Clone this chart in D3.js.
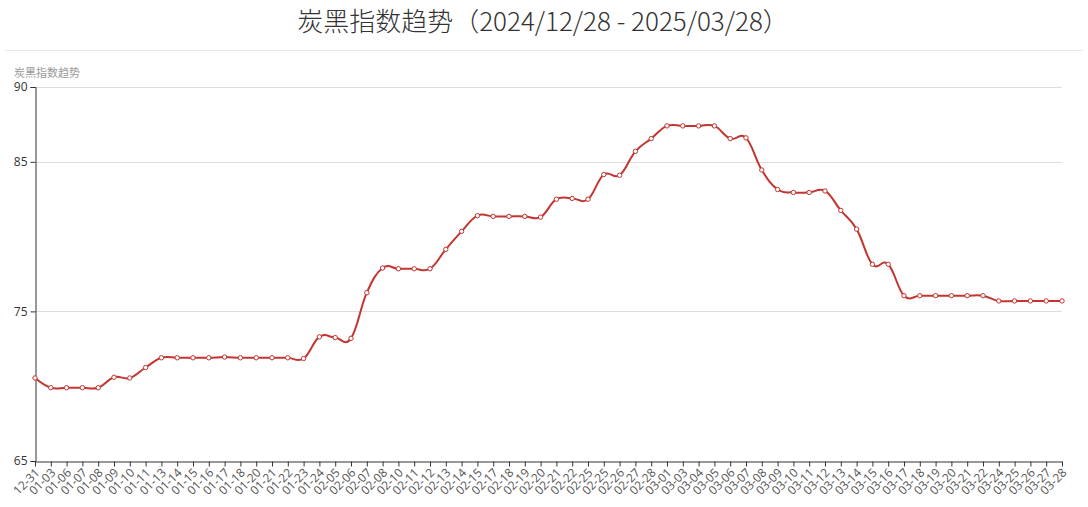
<!DOCTYPE html>
<html>
<head>
<meta charset="utf-8">
<script src="https://cdn.jsdelivr.net/npm/d3@7"></script>
<style>
  html, body { margin: 0; padding: 0; background: #fff; }
  svg { display: block; }
</style>
</head>
<body>
<svg id="chart" width="1088" height="507"></svg>
<script>
const titleText = "炭黑指数趋势（2024/12/28 - 2025/03/28）";
const yAxisName = "炭黑指数趋势";
const categories = ["12-31","01-03","01-06","01-07","01-08","01-09","01-10","01-11","01-13","01-14","01-15","01-16","01-17","01-18","01-20","01-21","01-22","01-23","01-24","02-05","02-06","02-07","02-08","02-10","02-11","02-12","02-13","02-14","02-15","02-17","02-18","02-19","02-20","02-21","02-22","02-25","02-25","02-26","02-27","02-28","03-01","03-03","03-04","03-05","03-06","03-07","03-08","03-09","03-10","03-11","03-12","03-13","03-14","03-15","03-16","03-17","03-18","03-19","03-20","03-21","03-22","03-24","03-25","03-26","03-27","03-28"];
const values = [70.55,69.9,69.9,69.9,69.9,70.6,70.55,71.25,71.9,71.9,71.9,71.9,71.95,71.9,71.9,71.9,71.9,71.85,73.3,73.25,73.2,76.25,77.9,77.85,77.85,77.85,79.15,80.35,81.4,81.35,81.35,81.35,81.3,82.5,82.55,82.5,84.15,84.1,85.7,86.55,87.4,87.4,87.4,87.4,86.55,86.6,84.45,83.15,82.95,82.95,83.05,81.75,80.5,78.15,78.15,76.05,76.05,76.05,76.05,76.05,76.05,75.7,75.7,75.7,75.7,75.7];
const yTicks = [65, 75, 85, 90];
const yDomain = [65, 90];

(function () {
const svg = d3.select("#chart");
const mLeft = 35, mRight = 1062, mTop = 87, mBottom = 461;

const x = d3.scaleLinear().domain([0, categories.length - 1]).range([mLeft, mRight]);
const y = d3.scaleLinear().domain(yDomain).range([mBottom, mTop]);

// title
svg.append("text")
  .attr("x", 543).attr("y", 31)
  .attr("text-anchor", "middle")
  .attr("font-family", "'Noto Sans CJK SC', 'Noto Sans', sans-serif")
  .attr("font-size", 26)
  .attr("font-weight", 300)
  .attr("fill", "#333")
  .text(titleText);

// separator line
svg.append("line")
  .attr("x1", 5).attr("x2", 1083).attr("y1", 50.5).attr("y2", 50.5)
  .attr("stroke", "#e6e6e6").attr("stroke-width", 1);

// y axis name
svg.append("text")
  .attr("x", 14).attr("y", 77)
  .attr("font-family", "'Noto Sans CJK SC', sans-serif")
  .attr("font-size", 11)
  .attr("fill", "#999")
  .text(yAxisName);

// grid lines
svg.append("g").selectAll("line")
  .data(yTicks.filter(d => d !== yDomain[0]))
  .join("line")
  .attr("x1", mLeft).attr("x2", mRight)
  .attr("y1", d => Math.round(y(d)) + 0.5).attr("y2", d => Math.round(y(d)) + 0.5)
  .attr("stroke", "#ddd").attr("stroke-width", 1);

// y axis
const yAxis = d3.axisLeft(y).tickValues(yTicks).tickSize(5).tickPadding(3).tickFormat(d3.format("d"));
const gy = svg.append("g").attr("transform", `translate(${mLeft + 0.5},0)`).call(yAxis);
gy.select(".domain").attr("stroke", "#333");
gy.selectAll(".tick line").attr("stroke", "#333");
gy.selectAll(".tick text").attr("fill", "#333")
  .attr("font-family", "'Open Sans', 'Noto Sans', sans-serif").attr("font-size", 12);

// x axis
const xAxis = d3.axisBottom(x)
  .tickValues(d3.range(categories.length))
  .tickFormat(i => categories[i])
  .tickSize(5).tickSizeOuter(0);
const gx = svg.append("g").attr("transform", `translate(0,${mBottom + 0.5})`).call(xAxis);
gx.select(".domain").attr("stroke", "#333");
gx.selectAll(".tick line").attr("stroke", "#333");
gx.selectAll(".tick text")
  .attr("fill", "#555")
  .attr("font-family", "'Open Sans', 'Noto Sans', sans-serif")
  .attr("font-size", 12)
  .attr("text-anchor", "end")
  .attr("dy", "0.35em")
  .attr("y", 0)
  .attr("transform", "translate(2,9) rotate(-45)");

// line
const line = d3.line()
  .x((d, i) => x(i))
  .y(d => y(d))
  .curve(d3.curveCardinal.tension(-0.2));

svg.append("path")
  .datum(values)
  .attr("d", line)
  .attr("fill", "none")
  .attr("stroke", "#c23531")
  .attr("stroke-width", 2);

svg.append("g").selectAll("circle")
  .data(values)
  .join("circle")
  .attr("cx", (d, i) => x(i))
  .attr("cy", d => y(d))
  .attr("r", 2.2)
  .attr("fill", "#fff")
  .attr("stroke", "#c23531")
  .attr("stroke-width", 1);
})();
</script>
</body>
</html>
